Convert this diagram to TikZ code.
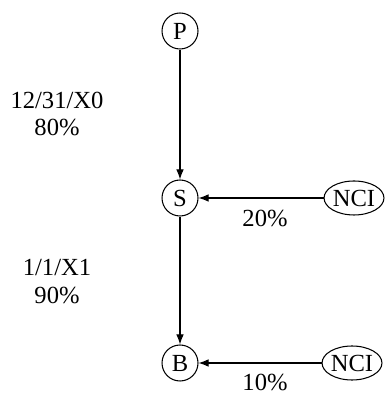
\documentclass[tikz,border=0pt]{standalone}
\usepackage{fontspec}
\setmainfont{Liberation Serif}
\usepackage{tikz}
\usetikzlibrary{arrows.meta, shapes.geometric}

\begin{document}
\begin{tikzpicture}[x=0.02cm, y=0.02cm, >=Latex,
    font=\fontsize{14}{15.9}\selectfont,
    state/.style={draw, circle, minimum size=0.72cm, inner sep=0pt, line width=0.6pt},
    source/.style={draw, ellipse, minimum width=1.18cm, minimum height=0.68cm, inner sep=0pt, line width=0.6pt},
    flow/.style={->, line width=0.6pt}]
  \useasboundingbox (0,0) rectangle (386,394);
  % --- main chain ---
  \node[state] (P) at (180,363) {P};
  \node[state] (S) at (180,196) {S};
  \node[state] (B) at (180,31) {B};
  % --- outside inputs ---
  \node[source] (NCIs) at (354,196) {NCI};
  \node[source] (NCIb) at (352,31) {NCI};
  \draw[flow] (P) -- (S);
  \draw[flow] (S) -- (B);
  \draw[flow] (NCIs) -- (S);
  \draw[flow] (NCIb) -- (B);
  % --- labels ---
  \node[align=center] (lblPS) at (57,280) {12/31/X0\\80\%};
  \node[align=center] (lblSB) at (57,112) {1/1/X1\\90\%};
  \node (lblS) at (265,176) {20\%};
  \node (lblB) at (265,12) {10\%};
\end{tikzpicture}
\end{document}
